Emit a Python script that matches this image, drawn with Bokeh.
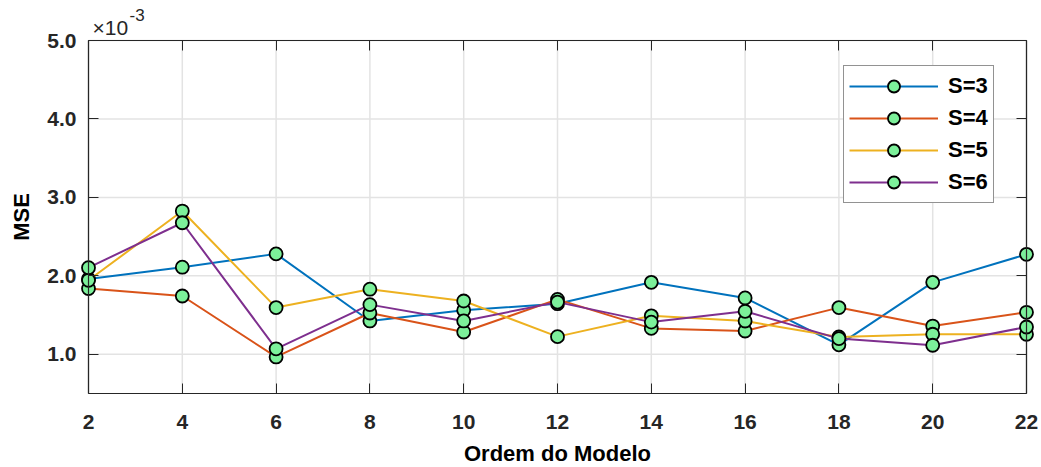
from bokeh.plotting import figure
from bokeh.models import (FixedTicker, PrintfTickFormatter, CustomJSTickFormatter, LinearAxis,
                          Label, Range1d, BoxAnnotation)
from bokeh.embed import file_html
from bokeh.resources import INLINE

# Data (MSE in units of 1e-3)
orders = [2, 4, 6, 8, 10, 12, 14, 16, 18, 20, 22]
s3 = [1.96, 2.11, 2.28, 1.425, 1.56, 1.645, 1.917, 1.718, 1.12, 1.917, 2.274]
s4 = [1.837, 1.743, 0.966, 1.526, 1.284, 1.70, 1.33, 1.297, 1.595, 1.36, 1.535]
s5 = [1.943, 2.826, 1.595, 1.83, 1.679, 1.225, 1.49, 1.424, 1.22, 1.255, 1.255]
s6 = [2.104, 2.677, 1.07, 1.633, 1.425, 1.665, 1.41, 1.548, 1.20, 1.115, 1.348]
series = [("S=3", s3), ("S=4", s4), ("S=5", s5), ("S=6", s6)]
colors = ["#0072BD", "#D95319", "#EDB120", "#7E2F8E"]
x_ticks = [2, 4, 6, 8, 10, 12, 14, 16, 18, 20, 22]
y_ticks = [1, 2, 3, 4, 5]
x_lo, x_hi = 2, 22
y_lo, y_hi = 0.5, 5.0

FONT = "Liberation Sans"
AX = "#262626"
GRID = "#e3e3e3"

# layout: the axes box is 938 x 353 px with 88 px left, 15 px right, 40 px above and 74 px
# below it; the plotting frame covers the whole canvas so that all texts around the box fit
BOX_W, BOX_H = 938, 353
L_PAD, R_PAD, T_PAD, B_PAD = 88, 15, 40, 74
PX = (x_hi - x_lo) / BOX_W
PY = (y_hi - y_lo) / BOX_H
TICK = 10

p = figure(width=1041, height=467, output_backend="svg", toolbar_location=None, title=None,
           x_range=Range1d(x_lo - L_PAD * PX, x_hi + R_PAD * PX),
           y_range=Range1d(y_lo - B_PAD * PY, y_hi + T_PAD * PY),
           min_border=0, background_fill_color="white", border_fill_color="white")
p.outline_line_color = None

p.xaxis.fixed_location = y_lo
p.xaxis.bounds = (x_lo, x_hi)
p.yaxis.fixed_location = x_lo
p.yaxis.bounds = (y_lo, y_hi)

for ax in [p.xaxis[0], p.yaxis[0]]:
    ax.major_tick_in = TICK
    ax.major_tick_out = 0
    ax.minor_tick_line_color = None
    ax.axis_line_color = AX
    ax.axis_line_width = 1.2
    ax.major_tick_line_color = AX
    ax.major_label_text_font = FONT
    ax.major_label_text_font_style = "bold"
    ax.major_label_text_font_size = "21px"
    ax.major_label_text_color = AX
    ax.axis_label_text_font = FONT
    ax.axis_label_text_font_style = "bold"
    ax.axis_label_text_font_size = "22px"
    ax.axis_label_text_color = "#000000"

p.xaxis.ticker = FixedTicker(ticks=x_ticks)
p.yaxis.ticker = FixedTicker(ticks=y_ticks)
p.yaxis.formatter = PrintfTickFormatter(format="%.1f")
p.xaxis.axis_label = "Ordem do Modelo"
p.yaxis.axis_label = "MSE"
p.xaxis.major_label_standoff = 21
p.yaxis.major_label_standoff = 12
p.xaxis.axis_label_standoff = 9
p.yaxis.axis_label_standoff = 10

blank = CustomJSTickFormatter(code="return ''")
top = LinearAxis(fixed_location=y_hi, ticker=FixedTicker(ticks=x_ticks), formatter=blank,
                 major_label_text_font_size="1px", major_tick_in=TICK, major_tick_out=0,
                 minor_tick_line_color=None, axis_line_color=AX, axis_line_width=1.2,
                 major_tick_line_color=AX, bounds=(x_lo, x_hi))
right = LinearAxis(fixed_location=x_hi, ticker=FixedTicker(ticks=y_ticks), formatter=blank,
                   major_label_text_font_size="1px", major_tick_in=TICK, major_tick_out=0,
                   minor_tick_line_color=None, axis_line_color=AX, axis_line_width=1.2,
                   major_tick_line_color=AX, bounds=(y_lo, y_hi))
p.add_layout(top, "above")
p.add_layout(right, "right")

# grid lines limited to the axes box
p.xgrid.visible = False
p.ygrid.visible = False
p.segment(x0=x_ticks, y0=[y_lo] * len(x_ticks), x1=x_ticks, y1=[y_hi] * len(x_ticks),
          line_color=GRID, line_width=1.5, level="underlay")
p.segment(x0=[x_lo] * len(y_ticks), y0=y_ticks, x1=[x_hi] * len(y_ticks), y1=y_ticks,
          line_color=GRID, line_width=1.5, level="underlay")

# box outline
p.add_layout(BoxAnnotation(left=x_lo, right=x_hi, bottom=y_lo, top=y_hi, fill_color=None,
                           fill_alpha=0, line_color=AX, line_width=1.2, level="underlay"))

for (name, vals), c in zip(series, colors):
    p.line(orders, vals, line_color=c, line_width=2, legend_label=name)
    p.scatter(orders, vals, size=13, fill_color="#7CF09A", line_color="black",
              line_width=1.8, legend_label=name)

# exponent text
p.add_layout(Label(x=x_lo, y=y_hi, x_offset=4, y_offset=13, text="×10", text_font=FONT,
                   text_font_size="21px", text_color=AX, text_baseline="alphabetic"))
p.add_layout(Label(x=x_lo, y=y_hi, x_offset=41, y_offset=26, text="-3", text_font=FONT,
                   text_font_size="17px", text_color=AX, text_baseline="alphabetic"))

lg = p.legend[0]
lg.location = (L_PAD + 755, B_PAD + BOX_H - 27 - 136)
lg.margin = 0
lg.padding = 5
lg.glyph_width = 89
lg.glyph_height = 30
lg.label_height = 30
lg.spacing = 2
lg.label_standoff = 10
lg.label_text_font = FONT
lg.label_text_font_style = "bold"
lg.label_text_font_size = "22px"
lg.label_text_color = "#000000"
lg.border_line_color = AX
lg.border_line_width = 1.2
lg.background_fill_color = "white"
lg.background_fill_alpha = 1.0

open("out.html", "w").write(file_html(p, INLINE))
